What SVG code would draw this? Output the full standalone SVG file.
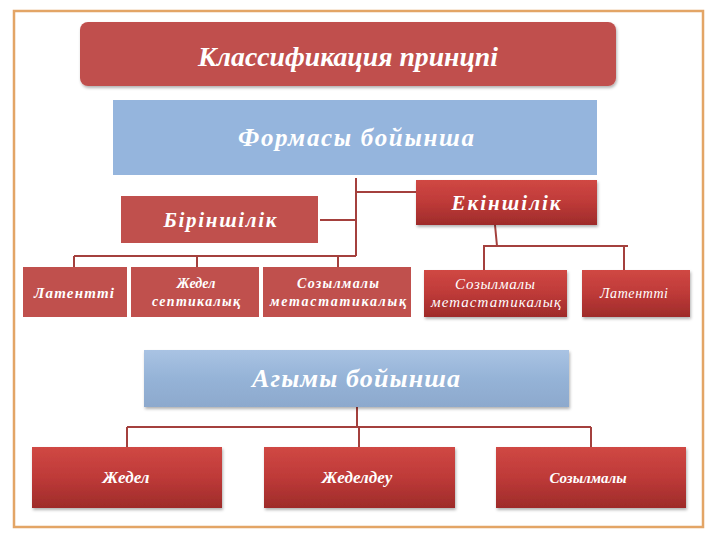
<svg xmlns="http://www.w3.org/2000/svg" width="720" height="540" viewBox="0 0 720 540">
<defs>
<linearGradient id="gRed" x1="0" y1="0" x2="0" y2="1">
<stop offset="0" stop-color="#D04844"/>
<stop offset="0.5" stop-color="#BE3A38"/>
<stop offset="1" stop-color="#9E2B2A"/>
</linearGradient>
<linearGradient id="gBlue" x1="0" y1="0" x2="0" y2="1">
<stop offset="0" stop-color="#A9C3E3"/>
<stop offset="0.5" stop-color="#95B3D7"/>
<stop offset="1" stop-color="#8DA9CD"/>
</linearGradient>
<filter id="sh" x="-5%" y="-10%" width="110%" height="130%">
<feDropShadow dx="1" dy="2" stdDeviation="1.5" flood-color="#000" flood-opacity="0.3"/>
</filter>
</defs>
<style>
.t{font-family:"Liberation Serif","DejaVu Serif",serif;font-style:italic;font-weight:bold;fill:#fff;text-anchor:middle}
.n{font-family:"Liberation Serif","DejaVu Serif",serif;font-style:italic;fill:#fff;text-anchor:middle}
.flat{fill:#C0504D}
.c{stroke:#A4403D;stroke-width:2;fill:none}
</style>
<rect x="0" y="0" width="720" height="540" fill="#fff"/>
<rect x="14" y="11" width="689" height="516" fill="none" stroke="#E3A566" stroke-width="2.5"/>

<g id="connectors">
<path class="c" d="M356 178 V256 M320 220 H356 M356 192 H416 M74 256 H356 M74 256 V267 M197 256 V267 M338 256 V267"/>
<path class="c" d="M495 225 L497 246 M483 246 H628 M484 246 V270 M624 246 V270"/>
<path class="c" d="M357 407 V427 M127 427 H591 M127 427 V447 M359 427 V447 M591 427 V447"/>
</g>

<g id="title">
<rect x="80" y="22" width="536" height="64" rx="8" fill="#C0504D" filter="url(#sh)"/>
<text class="t" x="348" y="66" font-size="27" textLength="300" lengthAdjust="spacingAndGlyphs">Классификация принцпі</text>
</g>

<g id="formasy">
<rect x="113" y="100" width="484" height="75" fill="#95B5DD"/>
<text class="t" x="356" y="146" font-size="25" textLength="236" lengthAdjust="spacing">Формасы бойынша</text>
</g>

<g id="birinshilik">
<rect x="121" y="196" width="197" height="47" class="flat"/>
<text class="t" x="220" y="227" font-size="21" textLength="113" lengthAdjust="spacing">Біріншілік</text>
</g>

<g id="ekinshilik">
<rect x="416" y="180" width="181" height="45" fill="url(#gRed)" filter="url(#sh)"/>
<text class="t" x="506" y="210" font-size="21" textLength="109" lengthAdjust="spacing">Екіншілік</text>
</g>

<g id="latentti1">
<rect x="23" y="267" width="104" height="50" class="flat"/>
<text class="t" x="74" y="298" font-size="15" textLength="80" lengthAdjust="spacing">Латентті</text>
</g>

<g id="zhedel-septik">
<rect x="131" y="267" width="128" height="50" class="flat"/>
<text class="t" x="196" y="288" font-size="14">Жедел</text>
<text class="t" x="196" y="306" font-size="14" textLength="88" lengthAdjust="spacing">септикалық</text>
</g>

<g id="sozylmaly-met1">
<rect x="263" y="267" width="148" height="50" class="flat"/>
<text class="t" x="338" y="288" font-size="14" textLength="82" lengthAdjust="spacing">Созылмалы</text>
<text class="t" x="338" y="306" font-size="14" textLength="136" lengthAdjust="spacing">метастатикалық</text>
</g>

<g id="sozylmaly-met2">
<rect x="424" y="270" width="143" height="47" fill="url(#gRed)" filter="url(#sh)"/>
<text class="n" x="495" y="289" font-size="15" textLength="80" lengthAdjust="spacing">Созылмалы</text>
<text class="n" x="496" y="307" font-size="15" textLength="130" lengthAdjust="spacing">метастатикалық</text>
</g>

<g id="latentti2">
<rect x="582" y="270" width="108" height="47" fill="url(#gRed)" filter="url(#sh)"/>
<text class="n" x="634" y="298" font-size="14" textLength="68" lengthAdjust="spacing">Латентті</text>
</g>

<g id="agymy">
<rect x="144" y="350" width="425" height="57" fill="url(#gBlue)" filter="url(#sh)"/>
<text class="t" x="356" y="387" font-size="26" textLength="208" lengthAdjust="spacing">Агымы бойынша</text>
</g>

<g id="zhedel">
<rect x="32" y="447" width="190" height="61" fill="url(#gRed)" filter="url(#sh)"/>
<text class="t" x="126" y="483" font-size="17">Жедел</text>
</g>

<g id="zhedeldeu">
<rect x="264" y="447" width="191" height="61" fill="url(#gRed)" filter="url(#sh)"/>
<text class="t" x="357" y="483" font-size="17">Жеделдеу</text>
</g>

<g id="sozylmaly">
<rect x="496" y="447" width="190" height="61" fill="url(#gRed)" filter="url(#sh)"/>
<text class="t" x="588" y="483" font-size="15">Созылмалы</text>
</g>
</svg>
